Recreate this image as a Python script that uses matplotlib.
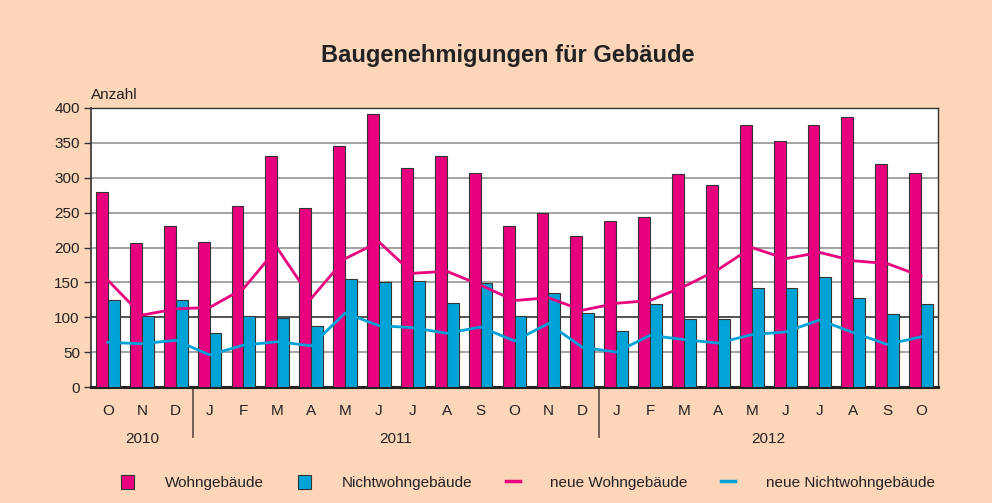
import numpy as np
import matplotlib.pyplot as plt
from matplotlib.transforms import blended_transform_factory

plt.rcParams['font.family'] = ['Liberation Sans', 'DejaVu Sans']

# Monate Okt 2010 bis Okt 2012
months = ["O", "N", "D",
          "J", "F", "M", "A", "M", "J", "J", "A", "S", "O", "N", "D",
          "J", "F", "M", "A", "M", "J", "J", "A", "S", "O"]
years = ["2010", "2011", "2012"]

wohn = [279, 207, 231,
        208, 259, 331, 256, 345, 392, 314, 331, 307, 231, 249, 216,
        238, 244, 305, 290, 375, 352, 376, 387, 320, 307]
nichtwohn = [125, 102, 125,
             78, 102, 99, 88, 155, 151, 152, 121, 149, 102, 135, 106,
             81, 119, 98, 98, 142, 142, 157, 127, 104, 119]
neue_wohn = [153, 103, 112,
             114, 141, 199, 127, 184, 208, 163, 166, 146, 124, 128, 110,
             120, 124, 144, 168, 200, 184, 193, 181, 177, 159]
neue_nichtwohn = [64, 62, 67,
                  46, 60, 65, 59, 106, 88, 85, 77, 86, 66, 91, 57,
                  50, 74, 68, 63, 75, 79, 96, 78, 61, 72]

BG = "#FDD5B9"
MAGENTA = "#E8007F"
CYAN = "#00A3D7"
TXT = "#222222"

fig = plt.figure(figsize=(9.92, 5.03), dpi=100, facecolor=BG)
ax = fig.add_axes([0.0917, 0.2306, 0.8539, 0.5547])
ax.set_facecolor("white")

x = np.arange(len(months))
w = 0.35
ax.bar(x - w / 2, wohn, width=w, color=MAGENTA, edgecolor="#333333", linewidth=0.8, zorder=3)
ax.bar(x + w / 2, nichtwohn, width=w, color=CYAN, edgecolor="#333333", linewidth=0.8, zorder=3)
ax.plot(x, neue_wohn, color=MAGENTA, lw=2, zorder=4)
ax.plot(x, neue_nichtwohn, color=CYAN, lw=2, zorder=4)

ax.set_xlim(-0.5, len(months) - 0.5)
ax.set_ylim(0, 400)
ax.set_yticks(range(0, 401, 50))
for v in range(50, 400, 50):
    ax.axhline(v, color="#222222" if v == 100 else "#8a8a8a", lw=1.1, zorder=1)

ax.tick_params(axis="y", length=5, width=1, color="#333333", labelsize=11, labelcolor=TXT, pad=3)
ax.set_xticks(x)
ax.set_xticklabels(months)
ax.tick_params(axis="x", length=0, labelsize=11, labelcolor=TXT, pad=12)

for s in ["top", "right"]:
    ax.spines[s].set_color("#333333")
    ax.spines[s].set_linewidth(1)
ax.spines["left"].set_color("#333333")
ax.spines["left"].set_linewidth(1.2)
ax.spines["bottom"].set_color("#222222")
ax.spines["bottom"].set_linewidth(2.2)

trans = blended_transform_factory(ax.transData, ax.transAxes)
# Jahrestrenner
for sep in [2.5, 14.5]:
    ax.plot([sep, sep], [0, -0.18], transform=trans, color="#5a4a40", lw=1.2, clip_on=False)
year_pos = [1, 8.5, 19.5]
for yp, lab in zip(year_pos, years):
    ax.text(yp, -0.185, lab, transform=trans, ha="center", va="center", fontsize=11, color=TXT)

ax.text(0.0, 1.045, "Anzahl", transform=ax.transAxes, ha="left", va="center", fontsize=11, color=TXT)
fig.text(0.512, 0.89, "Baugenehmigungen für Gebäude", ha="center", va="center",
         fontsize=17, fontweight="bold", color=TXT)

handles = [
    plt.Rectangle((0, 0), 1, 1, facecolor=MAGENTA, edgecolor="#333333", lw=0.8),
    plt.Rectangle((0, 0), 1, 1, facecolor=CYAN, edgecolor="#333333", lw=0.8),
    plt.Line2D([], [], color=MAGENTA, lw=2.5),
    plt.Line2D([], [], color=CYAN, lw=2.5),
]
labels = ["Wohngebäude", "Nichtwohngebäude", "neue Wohngebäude", "neue Nichtwohngebäude"]
fig.legend(handles, labels, loc="center", bbox_to_anchor=(0.532, 0.04), ncol=4, frameon=False,
           fontsize=11, handlelength=0.9, handleheight=1.0, handletextpad=2.0, columnspacing=2.2,
           labelcolor=TXT)

fig.savefig("out.png", dpi=100, facecolor=BG)
